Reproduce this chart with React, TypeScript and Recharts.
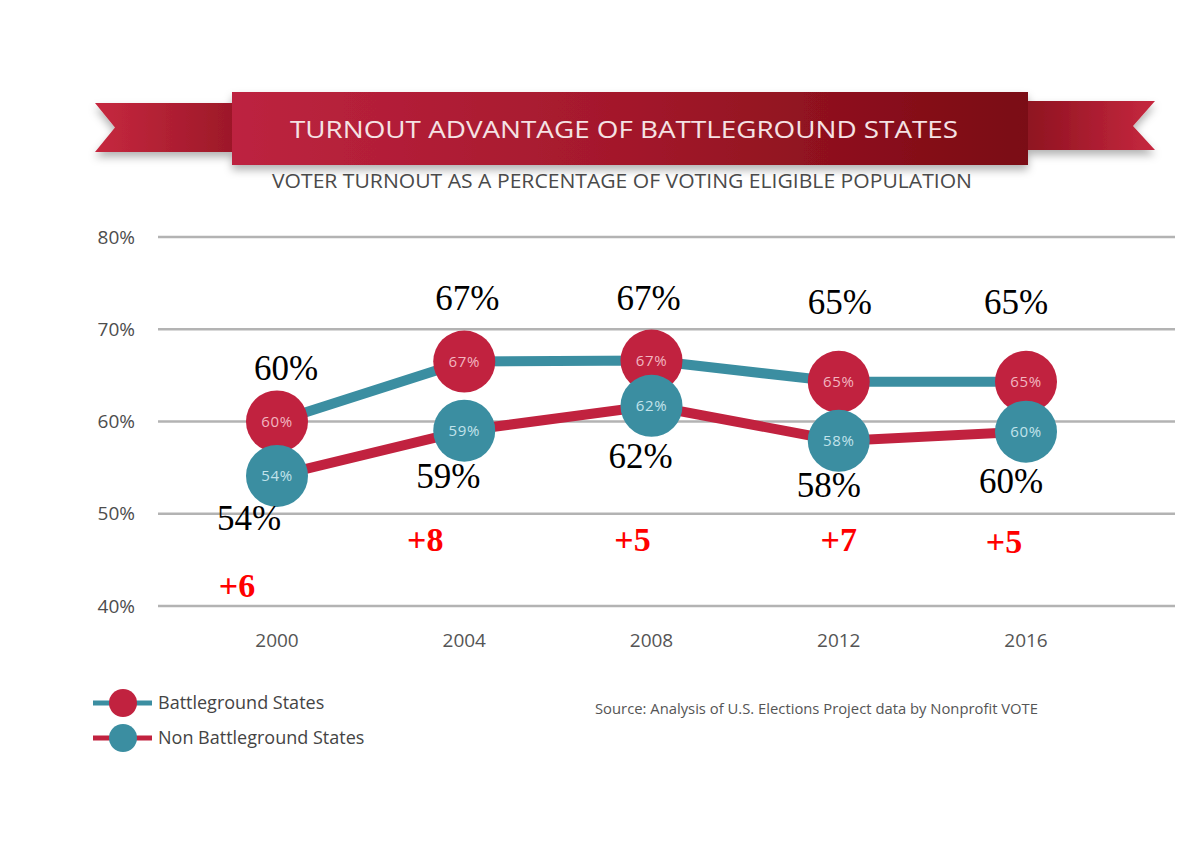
import { LineChart, Line, XAxis, YAxis, CartesianGrid } from 'recharts';

const years = ['2000', '2004', '2008', '2012', '2016'];
const battleground = [60.0, 66.5, 66.6, 64.3, 64.3];
const nonBattleground = [54.1, 59.0, 61.7, 57.9, 58.9];
const battlegroundLabels = ['60%', '67%', '67%', '65%', '65%'];
const nonBattlegroundLabels = ['54%', '59%', '62%', '58%', '60%'];
const advantageLabels = ['+6', '+8', '+5', '+7', '+5'];
const yTicks = [40, 50, 60, 70, 80];

// where the hand-written annotations sit, relative to each point
const upperOffsets = [[9, -42], [3, -52], [-3, -51], [1, -68], [-10, -68]];
const lowerOffsets = [[-28, 54], [-16, 57], [-11, 62], [-10, 56], [-15, 61]];
const advantageOffsets = [[-40, 121], [-39, 120], [-19, 145], [0, 110], [-22, 121]];

const RED = '#c1223f';
const TEAL = '#3b8ea1';
const SANS = '"Open Sans", "Noto Sans", sans-serif';
const SERIF = '"Liberation Serif", "DejaVu Serif", serif';

const data = years.map((year, i) => ({
  year,
  battleground: battleground[i],
  nonBattleground: nonBattleground[i],
}));

function BattlegroundDot(props: any) {
  const { cx, cy, index } = props;
  const [dx, dy] = upperOffsets[index];
  return (
    <g key={`bg-${index}`}>
      <circle cx={cx} cy={cy} r={31} fill={RED} />
      <text x={cx} y={cy} dy="0.36em" textAnchor="middle" fontFamily={SANS} fontSize={15} letterSpacing={0.6} fill="#f2b6c0">
        {battlegroundLabels[index]}
      </text>
      <text x={cx + dx} y={cy + dy} textAnchor="middle" fontFamily={SERIF} fontSize={35} fill="#000">
        {battlegroundLabels[index]}
      </text>
    </g>
  );
}

function NonBattlegroundDot(props: any) {
  const { cx, cy, index } = props;
  const [dx, dy] = lowerOffsets[index];
  const [ax, ay] = advantageOffsets[index];
  return (
    <g key={`nbg-${index}`}>
      <circle cx={cx} cy={cy} r={31} fill={TEAL} />
      <text x={cx} y={cy} dy="0.36em" textAnchor="middle" fontFamily={SANS} fontSize={15} letterSpacing={0.6} fill="#c2e3eb">
        {nonBattlegroundLabels[index]}
      </text>
      <text x={cx + dx} y={cy + dy} textAnchor="middle" fontFamily={SERIF} fontSize={35} fill="#000">
        {nonBattlegroundLabels[index]}
      </text>
      <text x={cx + ax} y={cy + ay} textAnchor="middle" fontFamily={SERIF} fontSize={34} fontWeight="bold" fill="#ff0000">
        {advantageLabels[index]}
      </text>
    </g>
  );
}

function Banner() {
  return (
    <svg width={1189} height={845} style={{ position: 'absolute', left: 0, top: 0, pointerEvents: 'none' }}>
      <defs>
        <linearGradient id="mainGrad" x1="0" x2="1" y1="0" y2="0">
          <stop offset="0" stopColor="#bd2340" />
          <stop offset="0.5" stopColor="#a3182b" />
          <stop offset="1" stopColor="#7a0a12" />
        </linearGradient>
        <linearGradient id="leftGrad" x1="0" x2="1" y1="0" y2="0">
          <stop offset="0" stopColor="#c6283f" />
          <stop offset="1" stopColor="#9c1828" />
        </linearGradient>
        <linearGradient id="rightGrad" x1="0" x2="1" y1="0" y2="0">
          <stop offset="0" stopColor="#8e1220" />
          <stop offset="1" stopColor="#c6283f" />
        </linearGradient>
        <filter id="shadow" x="-10%" y="-30%" width="120%" height="170%">
          <feDropShadow dx="0" dy="5" stdDeviation="4" floodColor="#000" floodOpacity="0.3" />
        </filter>
      </defs>
      <g filter="url(#shadow)">
        <polygon points="95,103 234,103 234,152 95,152 115,127.5" fill="url(#leftGrad)" />
        <polygon points="1026,101 1155,101 1133,126 1155,150 1026,150" fill="url(#rightGrad)" />
        <rect x={232} y={92} width={796} height={73} fill="url(#mainGrad)" />
      </g>
      <text x={624} y={138} textAnchor="middle" fontFamily={SANS} fontSize={24} fill="#f5e2e4" textLength={668} lengthAdjust="spacingAndGlyphs">
        TURNOUT ADVANTAGE OF BATTLEGROUND STATES
      </text>
      <text x={622} y={188} textAnchor="middle" fontFamily={SANS} fontSize={20} fill="#4a4a4a" textLength={700} lengthAdjust="spacingAndGlyphs">
        VOTER TURNOUT AS A PERCENTAGE OF VOTING ELIGIBLE POPULATION
      </text>

      {/* legend */}
      <line x1={93} x2={152} y1={703} y2={703} stroke={TEAL} strokeWidth={5} />
      <circle cx={123} cy={703} r={14} fill={RED} />
      <text x={158} y={703} dy="0.36em" fontFamily={SANS} fontSize={18} fill="#444">Battleground States</text>
      <line x1={93} x2={152} y1={738} y2={738} stroke={RED} strokeWidth={5} />
      <circle cx={123} cy={738} r={14} fill={TEAL} />
      <text x={158} y={738} dy="0.36em" fontFamily={SANS} fontSize={18} fill="#444">Non Battleground States</text>

      <text x={595} y={709} dy="0.36em" fontFamily={SANS} fontSize={14} fill="#555" textLength={443} lengthAdjust="spacingAndGlyphs">
        Source: Analysis of U.S. Elections Project data by Nonprofit VOTE
      </text>
    </svg>
  );
}

export default function App() {
  return (
    <div style={{ position: 'relative', width: 1189, height: 845, margin: -8, background: '#ececec', overflow: 'hidden' }}>
      <div
        style={{
          position: 'absolute',
          left: 5,
          top: 6,
          right: 0,
          bottom: 0,
          background: '#fff',
          borderTop: '1px solid #c8c8c8',
          borderLeft: '1px solid #c8c8c8',
        }}
      />
      <div style={{ position: 'absolute', left: 0, top: 0 }}>
        <LineChart width={1189} height={845} data={data} margin={{ top: 237, right: 14, bottom: 199, left: 0 }}>
          <CartesianGrid vertical={false} stroke="#b3b3b3" strokeWidth={2.5} />
          <XAxis
            dataKey="year"
            axisLine={false}
            tickLine={false}
            tickSize={0}
            tickMargin={28}
            height={40}
            interval={0}
            padding={{ left: 119, right: 149 }}
            tick={{ fill: '#555', fontSize: 19, fontFamily: SANS }}
          />
          <YAxis
            domain={[40, 80]}
            ticks={yTicks}
            width={158}
            axisLine={false}
            tickLine={false}
            tickSize={0}
            tickMargin={23}
            tickFormatter={(v: number) => `${v}%`}
            tick={{ fill: '#4d4d4d', fontSize: 19, fontFamily: SANS }}
          />
          <Line
            type="linear"
            dataKey="battleground"
            stroke={TEAL}
            strokeWidth={10}
            dot={BattlegroundDot}
            activeDot={false}
            isAnimationActive={false}
          />
          <Line
            type="linear"
            dataKey="nonBattleground"
            stroke={RED}
            strokeWidth={10}
            dot={NonBattlegroundDot}
            activeDot={false}
            isAnimationActive={false}
          />
        </LineChart>
      </div>
      <Banner />
    </div>
  );
}
